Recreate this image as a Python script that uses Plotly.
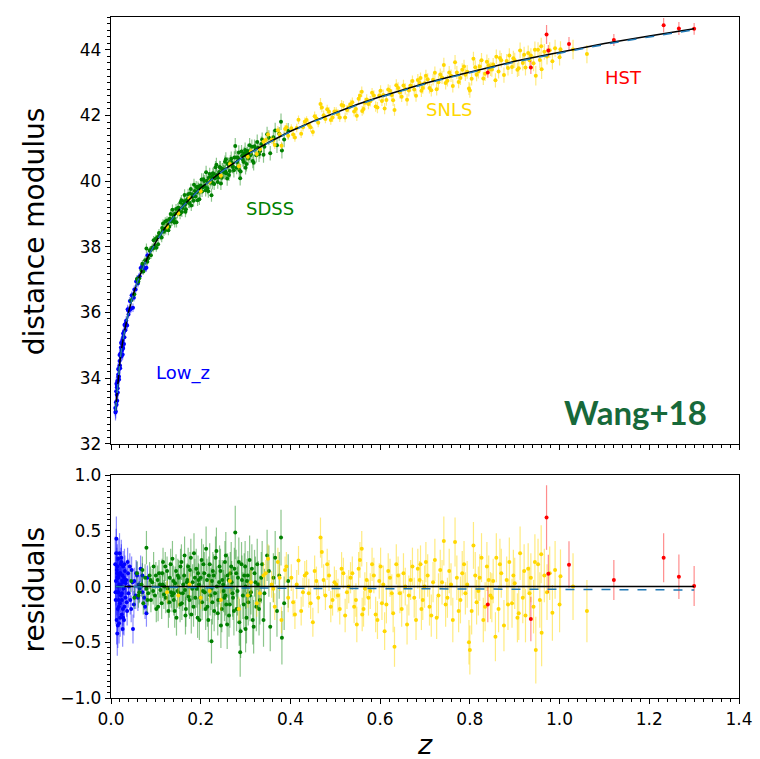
import numpy as np
import plotly.graph_objects as go

# ---------------- model curves ----------------
z_model = [0.01, 0.015, 0.02, 0.025, 0.03, 0.04, 0.05, 0.06, 0.07, 0.08,
           0.1, 0.12, 0.15, 0.2, 0.25, 0.3, 0.35, 0.4, 0.45, 0.5,
           0.55, 0.6, 0.65, 0.7, 0.75, 0.8, 0.85, 0.9, 0.95, 1.0,
           1.05, 1.1, 1.2, 1.3]
mu_model = [33.00, 33.89, 34.53, 35.02, 35.42, 36.06, 36.57, 36.98, 37.33, 37.63,
            38.15, 38.57, 39.10, 39.79, 40.33, 40.79, 41.17, 41.52, 41.82, 42.09,
            42.34, 42.57, 42.78, 42.98, 43.16, 43.33, 43.50, 43.65, 43.79, 43.93,
            44.06, 44.19, 44.42, 44.64]
res_model = [0.0] * len(z_model)
res_alt = [0.0, 0.0, 0.0, 0.0, 0.0, -0.002, -0.003, -0.004, -0.004, -0.005,
           -0.005, -0.006, -0.008, -0.010, -0.011, -0.012, -0.014, -0.015, -0.016, -0.017,
           -0.017, -0.018, -0.019, -0.020, -0.020, -0.021, -0.022, -0.023, -0.024, -0.025,
           -0.026, -0.027, -0.028, -0.030]

# ---------------- Low_z ----------------
z_low = [0.0095, 0.0105, 0.011, 0.012, 0.0125, 0.013, 0.014, 0.0145, 0.015, 0.016,
         0.0165, 0.017, 0.018, 0.0185, 0.019, 0.020, 0.021, 0.022, 0.023, 0.024,
         0.025, 0.026, 0.027, 0.028, 0.029, 0.030, 0.031, 0.032, 0.034, 0.036,
         0.038, 0.040, 0.043, 0.046, 0.049, 0.052, 0.055, 0.058, 0.062, 0.066,
         0.070, 0.074, 0.079, 0.081, 0.017, 0.022, 0.027, 0.033, 0.0135, 0.024,
         0.0100, 0.0115, 0.0128, 0.0140, 0.0152, 0.0160, 0.0175, 0.0190, 0.0205, 0.0215,
         0.0230, 0.0245, 0.0255, 0.0265, 0.0275, 0.0290, 0.0300, 0.0320, 0.0350, 0.0370,
         0.0390, 0.0420, 0.0450, 0.0480, 0.0510, 0.0560, 0.0600, 0.0640, 0.0700, 0.0760]
mu_low = [33.09, 32.99, 33.26, 33.83, 33.19, 33.72, 33.31, 33.89, 33.69, 34.28,
          34.05, 34.26, 33.96, 34.37, 34.70, 34.38, 34.75, 34.65, 35.05, 34.67,
          35.07, 34.72, 35.36, 35.24, 35.42, 35.24, 35.63, 35.46, 35.75, 35.60,
          36.06, 36.06, 36.10, 36.52, 36.14, 36.70, 36.70, 37.00, 37.07, 37.35,
          37.28, 37.35, 37.36, 37.74, 34.04, 34.93, 34.90, 35.66, 33.77, 34.86,
          32.95, 33.60, 33.49, 33.91, 33.56, 34.11, 34.05, 34.52, 34.30, 34.70,
          35.09, 34.85, 35.16, 34.94, 35.26, 35.04, 35.62, 35.61, 35.62, 36.10,
          35.94, 36.35, 36.12, 36.51, 36.45, 36.94, 36.88, 37.10, 37.43, 37.33]
res_low = [0.20, -0.12, 0.05, 0.43, -0.30, 0.15, -0.42, 0.08, -0.20, 0.25,
           -0.05, 0.10, -0.33, 0.02, 0.30, -0.15, 0.12, -0.08, 0.22, -0.25,
           0.05, -0.38, 0.18, -0.02, 0.08, -0.18, 0.14, -0.10, 0.06, -0.22,
           0.12, 0.00, -0.12, 0.15, -0.38, 0.05, -0.08, 0.10, 0.02, 0.16,
           -0.05, -0.10, -0.24, 0.08, -0.12, 0.20, -0.28, 0.03, 0.12, -0.06,
           -0.05, 0.30, -0.05, 0.18, -0.35, 0.08, -0.18, 0.12, -0.28, 0.02,
           0.26, -0.12, 0.10, -0.20, 0.04, -0.30, 0.20, 0.05, -0.14, 0.22,
           -0.06, 0.18, -0.20, 0.04, -0.16, 0.12, -0.10, -0.02, 0.10, -0.18]
err_low = [0.25, 0.22, 0.22, 0.20, 0.22, 0.20, 0.20, 0.18, 0.20, 0.18,
           0.18, 0.17, 0.18, 0.17, 0.18, 0.16, 0.16, 0.15, 0.16, 0.15,
           0.15, 0.16, 0.14, 0.14, 0.15, 0.14, 0.14, 0.13, 0.14, 0.13,
           0.13, 0.12, 0.13, 0.12, 0.13, 0.12, 0.12, 0.12, 0.12, 0.12,
           0.12, 0.11, 0.12, 0.11, 0.17, 0.15, 0.15, 0.14, 0.20, 0.15,
           0.24, 0.22, 0.21, 0.20, 0.20, 0.19, 0.18, 0.17, 0.17, 0.16,
           0.16, 0.15, 0.15, 0.15, 0.14, 0.14, 0.14, 0.13, 0.13, 0.13,
           0.13, 0.12, 0.12, 0.12, 0.12, 0.12, 0.12, 0.12, 0.11, 0.11]

# ---------------- SDSS ----------------
z_sdss = [0.045, 0.052, 0.058, 0.063, 0.068, 0.072, 0.076, 0.079, 0.083, 0.086,
          0.089, 0.092, 0.095, 0.098, 0.101, 0.104, 0.107, 0.110, 0.113, 0.116,
          0.119, 0.122, 0.125, 0.128, 0.131, 0.134, 0.137, 0.140, 0.143, 0.146,
          0.149, 0.152, 0.155, 0.158, 0.161, 0.164, 0.167, 0.170, 0.173, 0.176,
          0.179, 0.182, 0.185, 0.188, 0.191, 0.194, 0.197, 0.200, 0.203, 0.206,
          0.209, 0.212, 0.215, 0.218, 0.221, 0.224, 0.227, 0.230, 0.233, 0.236,
          0.239, 0.242, 0.245, 0.248, 0.251, 0.254, 0.257, 0.260, 0.263, 0.266,
          0.269, 0.272, 0.275, 0.277, 0.280, 0.283, 0.286, 0.288, 0.291, 0.294,
          0.297, 0.300, 0.303, 0.306, 0.309, 0.312, 0.316, 0.320, 0.324, 0.328,
          0.332, 0.337, 0.342, 0.348, 0.355, 0.362, 0.370, 0.375, 0.379, 0.381,
          0.386, 0.395, 0.225, 0.079, 0.115, 0.165, 0.195, 0.255, 0.300, 0.140,
          0.061, 0.070, 0.081, 0.088, 0.094, 0.100, 0.105, 0.109, 0.114, 0.118,
          0.121, 0.126, 0.130, 0.133, 0.136, 0.139, 0.142, 0.145, 0.148, 0.151,
          0.154, 0.157, 0.160, 0.163, 0.166, 0.169, 0.172, 0.175, 0.178, 0.181,
          0.184, 0.187, 0.190, 0.193, 0.196, 0.199, 0.202, 0.205, 0.208, 0.211,
          0.214, 0.217, 0.220, 0.223, 0.226, 0.229, 0.232, 0.235, 0.238, 0.241,
          0.244, 0.247, 0.250, 0.253, 0.256, 0.259, 0.262, 0.265, 0.268, 0.271,
          0.274, 0.279, 0.282, 0.285, 0.289, 0.292, 0.296, 0.299, 0.302, 0.305,
          0.310, 0.314, 0.318, 0.322, 0.326, 0.330, 0.335, 0.340, 0.352, 0.366]
mu_sdss = [36.37, 36.55, 37.02, 37.04, 37.28, 37.25, 37.59, 37.95, 37.65, 37.88,
           37.74, 37.98, 38.20, 38.02, 37.97, 38.30, 38.42, 38.33, 38.28, 38.71,
           38.55, 38.51, 38.80, 38.50, 38.85, 38.77, 39.13, 38.81, 39.01, 38.75,
           39.18, 39.07, 39.35, 39.06, 39.28, 39.58, 39.14, 39.45, 39.34, 39.62,
           39.26, 39.59, 39.89, 39.53, 39.65, 39.83, 39.45, 39.87, 39.68, 40.06,
           39.84, 40.27, 39.78, 40.10, 39.95, 39.57, 40.24, 39.91, 40.42, 40.19,
           40.10, 40.43, 39.93, 40.37, 40.30, 40.59, 40.24, 40.53, 40.19, 40.60,
           40.55, 40.43, 40.72, 41.07, 40.41, 40.71, 40.34, 40.09, 40.90, 40.65,
           40.85, 40.41, 40.85, 40.69, 41.09, 40.82, 40.61, 41.06, 40.79, 41.02,
           40.91, 41.27, 41.05, 41.43, 40.85, 41.34, 41.09, 41.44, 41.81, 40.93,
           41.27, 41.53, 40.13, 37.58, 38.49, 39.28, 39.78, 40.30, 40.79, 38.87,
           36.94, 37.48, 37.54, 37.90, 37.95, 38.25, 38.08, 38.36, 38.57, 38.46,
           38.77, 38.66, 38.61, 39.00, 38.78, 38.96, 38.74, 39.15, 39.02, 39.19,
           39.00, 39.42, 39.18, 39.39, 39.07, 39.41, 39.60, 39.34, 39.76, 39.52,
           39.40, 39.70, 39.82, 39.42, 39.76, 39.68, 40.05, 39.81, 40.00, 39.72,
           40.01, 39.69, 40.22, 40.03, 39.95, 40.22, 40.09, 40.50, 39.97, 40.28,
           40.41, 40.10, 40.35, 40.26, 40.67, 40.08, 40.50, 40.31, 40.68, 40.46,
           40.33, 40.72, 40.58, 40.87, 40.29, 40.77, 40.58, 40.95, 40.52, 40.92,
           40.78, 41.05, 40.56, 40.99, 41.19, 40.82, 41.13, 40.80, 41.32, 41.54]
res_sdss = [0.05, -0.10, 0.12, -0.05, 0.02, -0.15, 0.08, 0.35, -0.06, 0.10,
            -0.12, 0.04, 0.18, -0.08, -0.20, 0.06, 0.12, -0.03, -0.15, 0.22,
            0.00, -0.10, 0.14, -0.22, 0.08, -0.05, 0.25, -0.12, 0.03, -0.28,
            0.10, -0.06, 0.18, -0.15, 0.02, 0.28, -0.20, 0.06, -0.09, 0.15,
            -0.25, 0.04, 0.30, -0.10, -0.02, 0.12, -0.30, 0.08, -0.14, 0.20,
            -0.05, 0.34, -0.18, 0.10, -0.08, -0.49, 0.14, -0.22, 0.26, 0.00,
            -0.12, 0.18, -0.35, 0.06, -0.04, 0.22, -0.16, 0.10, -0.26, 0.12,
            0.04, -0.10, 0.16, 0.485, -0.20, 0.08, -0.32, -0.59, 0.20, -0.08,
            0.10, -0.38, 0.05, -0.14, 0.24, -0.05, -0.30, 0.12, -0.18, 0.02,
            -0.12, 0.20, -0.06, 0.28, -0.36, 0.08, -0.22, 0.10, 0.44, -0.46,
            -0.15, 0.05, 0.05, -0.02, 0.02, -0.03, 0.06, -0.08, 0.00, -0.06,
            -0.08, 0.15, -0.12, 0.06, -0.04, 0.10, -0.18, 0.02, 0.12, -0.07,
            0.18, -0.02, -0.14, 0.20, -0.08, 0.05, -0.22, 0.14, -0.04, 0.08,
            -0.16, 0.22, -0.06, 0.10, -0.26, 0.04, 0.18, -0.12, 0.26, -0.02,
            -0.18, 0.08, 0.16, -0.28, 0.02, -0.10, 0.24, -0.04, 0.12, -0.20,
            0.06, -0.30, 0.20, -0.02, -0.14, 0.10, -0.06, 0.32, -0.24, 0.04,
            0.14, -0.20, 0.02, -0.10, 0.28, -0.34, 0.06, -0.16, 0.18, -0.06,
            -0.22, 0.12, -0.04, 0.22, -0.40, 0.06, -0.16, 0.18, -0.28, 0.10,
            -0.08, 0.16, -0.36, 0.04, 0.20, -0.20, 0.08, -0.30, 0.14, 0.26]
err_sdss = [0.10, 0.10, 0.11, 0.10, 0.11, 0.10, 0.12, 0.15, 0.11, 0.12,
            0.11, 0.12, 0.13, 0.12, 0.12, 0.13, 0.12, 0.13, 0.14, 0.13,
            0.13, 0.14, 0.13, 0.15, 0.14, 0.14, 0.16, 0.14, 0.15, 0.16,
            0.15, 0.14, 0.16, 0.15, 0.15, 0.17, 0.16, 0.15, 0.16, 0.16,
            0.17, 0.16, 0.18, 0.16, 0.17, 0.16, 0.18, 0.17, 0.16, 0.18,
            0.17, 0.20, 0.18, 0.17, 0.18, 0.20, 0.17, 0.18, 0.19, 0.18,
            0.18, 0.19, 0.20, 0.18, 0.19, 0.19, 0.18, 0.20, 0.19, 0.19,
            0.19, 0.20, 0.19, 0.24, 0.20, 0.19, 0.21, 0.22, 0.20, 0.21,
            0.20, 0.21, 0.20, 0.21, 0.22, 0.20, 0.22, 0.21, 0.22, 0.21,
            0.22, 0.21, 0.22, 0.23, 0.22, 0.22, 0.23, 0.21, 0.25, 0.24,
            0.24, 0.24, 0.15, 0.10, 0.12, 0.14, 0.15, 0.18, 0.20, 0.14,
            0.11, 0.12, 0.12, 0.12, 0.12, 0.12, 0.13, 0.12, 0.13, 0.13,
            0.13, 0.14, 0.14, 0.14, 0.15, 0.14, 0.15, 0.15, 0.15, 0.16,
            0.16, 0.16, 0.16, 0.16, 0.17, 0.16, 0.17, 0.17, 0.17, 0.17,
            0.18, 0.17, 0.18, 0.18, 0.18, 0.18, 0.19, 0.18, 0.19, 0.19,
            0.19, 0.20, 0.19, 0.19, 0.20, 0.19, 0.20, 0.21, 0.20, 0.20,
            0.20, 0.21, 0.20, 0.21, 0.21, 0.22, 0.21, 0.21, 0.22, 0.21,
            0.22, 0.21, 0.22, 0.22, 0.24, 0.22, 0.22, 0.23, 0.23, 0.22,
            0.23, 0.22, 0.24, 0.23, 0.23, 0.24, 0.23, 0.24, 0.23, 0.24]

# ---------------- SNLS ----------------
z_snls = [0.125, 0.150, 0.175, 0.200, 0.220, 0.245, 0.265, 0.285, 0.305, 0.325,
          0.340, 0.350, 0.358, 0.365, 0.372, 0.380, 0.388, 0.395, 0.402, 0.410,
          0.418, 0.428, 0.436, 0.445, 0.450, 0.458, 0.467, 0.470, 0.478, 0.486,
          0.494, 0.502, 0.510, 0.518, 0.526, 0.534, 0.542, 0.548, 0.552, 0.559,
          0.566, 0.574, 0.582, 0.590, 0.598, 0.604, 0.610, 0.618, 0.626, 0.632,
          0.640, 0.648, 0.656, 0.664, 0.672, 0.680, 0.688, 0.695, 0.702, 0.710,
          0.718, 0.726, 0.734, 0.742, 0.750, 0.758, 0.767, 0.775, 0.783, 0.790,
          0.798, 0.800, 0.808, 0.815, 0.822, 0.830, 0.838, 0.846, 0.852, 0.857,
          0.859, 0.864, 0.870, 0.876, 0.882, 0.888, 0.894, 0.900, 0.906, 0.912,
          0.918, 0.924, 0.930, 0.936, 0.942, 0.947, 0.952, 0.959, 0.960, 0.966,
          0.972, 0.978, 0.984, 0.990, 1.000, 1.002, 1.030, 1.061, 0.560, 0.690,
          0.312, 0.332, 0.345, 0.362, 0.376, 0.391, 0.406, 0.414, 0.424, 0.432,
          0.441, 0.454, 0.462, 0.474, 0.482, 0.490, 0.498, 0.506, 0.514, 0.522,
          0.530, 0.538, 0.546, 0.555, 0.563, 0.570, 0.578, 0.586, 0.594, 0.601,
          0.607, 0.614, 0.622, 0.629, 0.636, 0.644, 0.652, 0.660, 0.668, 0.676,
          0.684, 0.692, 0.699, 0.706, 0.714, 0.722, 0.730, 0.738, 0.746, 0.754,
          0.762, 0.771, 0.779, 0.787, 0.794, 0.804, 0.812, 0.819, 0.826, 0.834,
          0.842, 0.849, 0.867, 0.885, 0.897, 0.909, 0.921, 0.933, 0.945, 0.956]
mu_snls = [38.61, 39.02, 39.48, 39.69, 39.98, 40.16, 40.52, 40.45, 40.74, 40.83,
           41.20, 41.42, 41.26, 41.10, 41.55, 41.08, 41.59, 41.38, 41.61, 41.33,
           41.87, 41.64, 41.86, 41.64, 41.50, 41.91, 42.35, 42.24, 41.89, 42.11,
           41.94, 42.12, 41.94, 42.30, 42.17, 42.34, 42.12, 41.99, 42.51, 42.72,
           42.39, 42.35, 42.69, 42.27, 42.61, 42.44, 42.21, 42.79, 42.62, 42.17,
           42.84, 42.57, 42.81, 42.76, 43.05, 42.60, 42.99, 42.84, 43.21, 42.84,
           43.09, 42.80, 43.25, 43.54, 43.06, 43.21, 43.62, 43.02, 43.39, 43.24,
           42.82, 42.76, 43.73, 43.24, 43.49, 43.13, 43.64, 43.41, 43.55, 43.07,
           43.79, 43.34, 43.68, 43.23, 43.66, 43.83, 43.48, 43.68, 43.39, 43.98,
           43.60, 43.46, 43.90, 43.83, 43.59, 43.21, 44.00, 44.11, 43.41, 43.94,
           43.80, 43.99, 43.65, 44.05, 43.77, 44.02, 44.01, 43.87, 42.14, 43.14,
           40.91, 40.97, 41.25, 41.24, 41.43, 41.64, 41.42, 41.62, 41.44, 41.81,
           41.71, 41.98, 41.78, 42.01, 42.19, 41.86, 42.12, 42.04, 42.32, 41.94,
           42.24, 42.40, 42.20, 42.60, 42.20, 42.49, 42.43, 42.61, 42.24, 42.75,
           42.62, 42.47, 42.75, 42.46, 42.92, 42.70, 42.91, 42.48, 42.91, 42.79,
           43.08, 42.75, 42.98, 43.10, 42.77, 43.30, 43.01, 43.16, 42.99, 43.31,
           42.90, 43.31, 43.14, 43.49, 43.33, 43.12, 43.47, 43.35, 43.68, 43.27,
           43.53, 43.40, 43.75, 43.45, 43.74, 43.44, 43.85, 43.68, 44.00, 43.69]
res_snls = [-0.05, -0.08, 0.02, -0.10, -0.04, -0.12, 0.05, -0.20, -0.08, -0.15,
            0.10, 0.25, 0.02, -0.18, 0.22, -0.30, 0.15, -0.10, 0.08, -0.25,
            0.235, -0.05, 0.12, -0.15, -0.32, 0.05, 0.44, 0.31, -0.08, 0.10,
            -0.12, 0.02, -0.20, 0.12, -0.05, 0.08, -0.18, -0.34, 0.16, 0.34,
            -0.02, -0.10, 0.20, -0.25, 0.05, -0.15, -0.40, 0.14, -0.06, -0.54,
            0.10, -0.20, 0.00, -0.08, 0.18, -0.30, 0.06, -0.12, 0.22, -0.18,
            0.04, -0.28, 0.15, 0.41, -0.10, 0.02, 0.40, -0.22, 0.12, -0.06,
            -0.50, -0.57, 0.37, -0.14, 0.08, -0.30, 0.18, -0.08, 0.05, -0.45,
            0.26, -0.20, 0.12, -0.35, 0.06, 0.22, -0.15, 0.03, -0.28, 0.30,
            -0.10, -0.26, 0.16, 0.08, -0.18, -0.57, 0.20, 0.29, -0.415, 0.10,
            -0.05, 0.12, -0.235, 0.15, -0.16, 0.094, 0.00, -0.22, -0.25, 0.20,
            0.04, -0.06, 0.12, -0.02, 0.08, 0.18, -0.14, 0.02, -0.22, 0.10,
            -0.06, 0.14, -0.10, 0.06, 0.20, -0.18, 0.04, -0.08, 0.16, -0.26,
            0.00, 0.12, -0.12, 0.24, -0.20, 0.06, -0.04, 0.10, -0.30, 0.18,
            0.02, -0.16, 0.08, -0.24, 0.20, -0.06, 0.12, -0.34, 0.06, -0.10,
            0.16, -0.20, 0.00, 0.10, -0.26, 0.24, -0.08, 0.04, -0.16, 0.14,
            -0.30, 0.08, -0.12, 0.20, 0.02, -0.22, 0.10, -0.04, 0.26, -0.18,
            0.06, -0.10, 0.20, -0.16, 0.10, -0.24, 0.14, -0.06, 0.22, -0.12]
err_snls = [0.10, 0.10, 0.10, 0.10, 0.10, 0.10, 0.11, 0.11, 0.11, 0.12,
            0.12, 0.13, 0.12, 0.12, 0.13, 0.12, 0.12, 0.13, 0.12, 0.13,
            0.13, 0.13, 0.12, 0.14, 0.13, 0.13, 0.18, 0.14, 0.13, 0.14,
            0.14, 0.13, 0.14, 0.14, 0.15, 0.14, 0.15, 0.16, 0.15, 0.16,
            0.15, 0.16, 0.15, 0.16, 0.16, 0.15, 0.17, 0.16, 0.17, 0.18,
            0.17, 0.16, 0.17, 0.18, 0.17, 0.18, 0.17, 0.18, 0.18, 0.17,
            0.18, 0.19, 0.18, 0.22, 0.18, 0.19, 0.22, 0.19, 0.20, 0.19,
            0.20, 0.22, 0.21, 0.20, 0.21, 0.20, 0.22, 0.21, 0.20, 0.22,
            0.22, 0.21, 0.22, 0.23, 0.21, 0.22, 0.22, 0.23, 0.22, 0.24,
            0.23, 0.24, 0.23, 0.22, 0.24, 0.30, 0.23, 0.26, 0.30, 0.24,
            0.25, 0.24, 0.25, 0.26, 0.25, 0.24, 0.30, 0.28, 0.15, 0.17,
            0.11, 0.12, 0.12, 0.12, 0.12, 0.13, 0.13, 0.13, 0.13, 0.13,
            0.13, 0.14, 0.14, 0.14, 0.14, 0.14, 0.14, 0.15, 0.15, 0.15,
            0.15, 0.15, 0.15, 0.16, 0.16, 0.16, 0.16, 0.16, 0.17, 0.17,
            0.17, 0.17, 0.17, 0.17, 0.18, 0.18, 0.18, 0.18, 0.18, 0.18,
            0.18, 0.19, 0.19, 0.19, 0.19, 0.19, 0.20, 0.20, 0.20, 0.20,
            0.20, 0.20, 0.21, 0.21, 0.21, 0.21, 0.21, 0.22, 0.22, 0.22,
            0.22, 0.22, 0.23, 0.23, 0.23, 0.24, 0.24, 0.24, 0.25, 0.25]

# ---------------- HST ----------------
z_hst = [0.840, 0.936, 0.971, 0.975, 1.021, 1.121, 1.232, 1.266, 1.300]
mu_hst = [43.31, 43.46, 44.47, 43.98, 44.18, 44.30, 44.75, 44.65, 44.64]
res_hst = [-0.16, -0.29, 0.62, 0.115, 0.197, 0.059, 0.26, 0.088, 0.006]
err_hst = [0.16, 0.20, 0.29, 0.17, 0.21, 0.18, 0.22, 0.20, 0.18]

surveys = [
    ("Low_z", z_low, mu_low, res_low, err_low, "#0000ff", "rgba(0,0,255,0.45)"),
    ("SDSS", z_sdss, mu_sdss, res_sdss, err_sdss, "#008000", "rgba(0,128,0,0.45)"),
    ("SNLS", z_snls, mu_snls, res_snls, err_snls, "#ffd700", "rgba(255,215,0,0.5)"),
    ("HST", z_hst, mu_hst, res_hst, err_hst, "#ff0000", "rgba(255,0,0,0.45)"),
]

label_text = ["Low_z", "SDSS", "SNLS", "HST"]
label_z = [0.161, 0.355, 0.753, 1.143]
label_mu = [34.16, 39.18, 42.18, 43.17]
label_color = ["#0000ff", "#008000", "#ffd700", "#ff0000"]

fig = go.Figure()

for name, z, mu, res, err, col, ecol in surveys:
    fig.add_trace(go.Scatter(
        x=z, y=mu, mode="markers", name=name, showlegend=False,
        marker=dict(size=4, color=col, line=dict(width=0)),
        error_y=dict(type="data", array=err, color=ecol, thickness=1.2, width=0),
        xaxis="x", yaxis="y"))
    fig.add_trace(go.Scatter(
        x=z, y=res, mode="markers", name=name, showlegend=False,
        marker=dict(size=4, color=col, line=dict(width=0)),
        error_y=dict(type="data", array=err, color=ecol, thickness=1.2, width=0),
        xaxis="x2", yaxis="y2"))

mu_alt = list(np.array(mu_model) + np.array(res_alt))

fig.add_trace(go.Scatter(x=z_model, y=mu_model, mode="lines", showlegend=False,
                         line=dict(color="black", width=1.5), xaxis="x", yaxis="y"))
fig.add_trace(go.Scatter(x=z_model, y=mu_alt, mode="lines", showlegend=False,
                         line=dict(color="#1f77b4", width=1.5, dash="dash"),
                         xaxis="x", yaxis="y"))
fig.add_trace(go.Scatter(x=z_model, y=res_model, mode="lines", showlegend=False,
                         line=dict(color="black", width=1.5), xaxis="x2", yaxis="y2"))
fig.add_trace(go.Scatter(x=z_model, y=res_alt, mode="lines", showlegend=False,
                         line=dict(color="#1f77b4", width=1.5, dash="dash"),
                         xaxis="x2", yaxis="y2"))

tickfont = dict(family="DejaVu Sans", size=17, color="black")
common = dict(showline=True, linecolor="black", linewidth=1.3, mirror=True,
              ticks="outside", ticklen=5, tickwidth=1.2, tickcolor="black",
              showgrid=False, zeroline=False, tickfont=tickfont)

fig.update_layout(
    width=760, height=759,
    margin=dict(l=111, r=15, t=7, b=61),
    paper_bgcolor="white", plot_bgcolor="white",
    xaxis=dict(domain=[0, 1], anchor="y", range=[0, 1.4], dtick=0.2, tick0=0,
               showticklabels=False,
               minor=dict(dtick=0.02, tick0=0, ticks="outside", ticklen=3,
                          tickwidth=1, tickcolor="black"), **common),
    yaxis=dict(domain=[0.3734, 1.0], anchor="x", range=[32, 45], dtick=2, tick0=32,
               minor=dict(dtick=0.2, tick0=32, ticks="outside", ticklen=3,
                          tickwidth=1, tickcolor="black"), **common),
    xaxis2=dict(domain=[0, 1], anchor="y2", range=[0, 1.4], dtick=0.2, tick0=0,
                tickformat=".1f",
                minor=dict(dtick=0.02, tick0=0, ticks="outside", ticklen=3,
                           tickwidth=1, tickcolor="black"), **common),
    yaxis2=dict(domain=[0.0, 0.3271], anchor="x2", range=[-1, 1], dtick=0.5, tick0=-1,
                tickformat=".1f",
                minor=dict(dtick=0.05, tick0=-1, ticks="outside", ticklen=3,
                           tickwidth=1, tickcolor="black"), **common),
)

annotations = []
for t, zx, my, c in zip(label_text, label_z, label_mu, label_color):
    annotations.append(dict(x=zx, y=my, xref="x", yref="y", text=t, showarrow=False,
                            font=dict(family="DejaVu Sans", size=18, color=c),
                            xanchor="center", yanchor="middle"))
annotations.append(dict(x=1.17, y=32.96, xref="x", yref="y", text="<b>Wang+18</b>",
                        showarrow=False,
                        font=dict(family="Lato", size=33, color="#17693a"),
                        xanchor="center", yanchor="middle"))
annotations.append(dict(x=-0.122, y=0.686, xref="paper", yref="paper",
                        text="distance modulus", textangle=-90, showarrow=False,
                        font=dict(family="DejaVu Sans", size=28, color="black"),
                        xanchor="center", yanchor="middle"))
annotations.append(dict(x=-0.122, y=0.160, xref="paper", yref="paper",
                        text="residuals", textangle=-90, showarrow=False,
                        font=dict(family="DejaVu Sans", size=28, color="black"),
                        xanchor="center", yanchor="middle"))
annotations.append(dict(x=0.5, y=-0.068, xref="paper", yref="paper",
                        text="<i>z</i>", showarrow=False,
                        font=dict(family="DejaVu Sans", size=27, color="black"),
                        xanchor="center", yanchor="middle"))
fig.update_layout(annotations=annotations)

fig.write_html("out.html")
